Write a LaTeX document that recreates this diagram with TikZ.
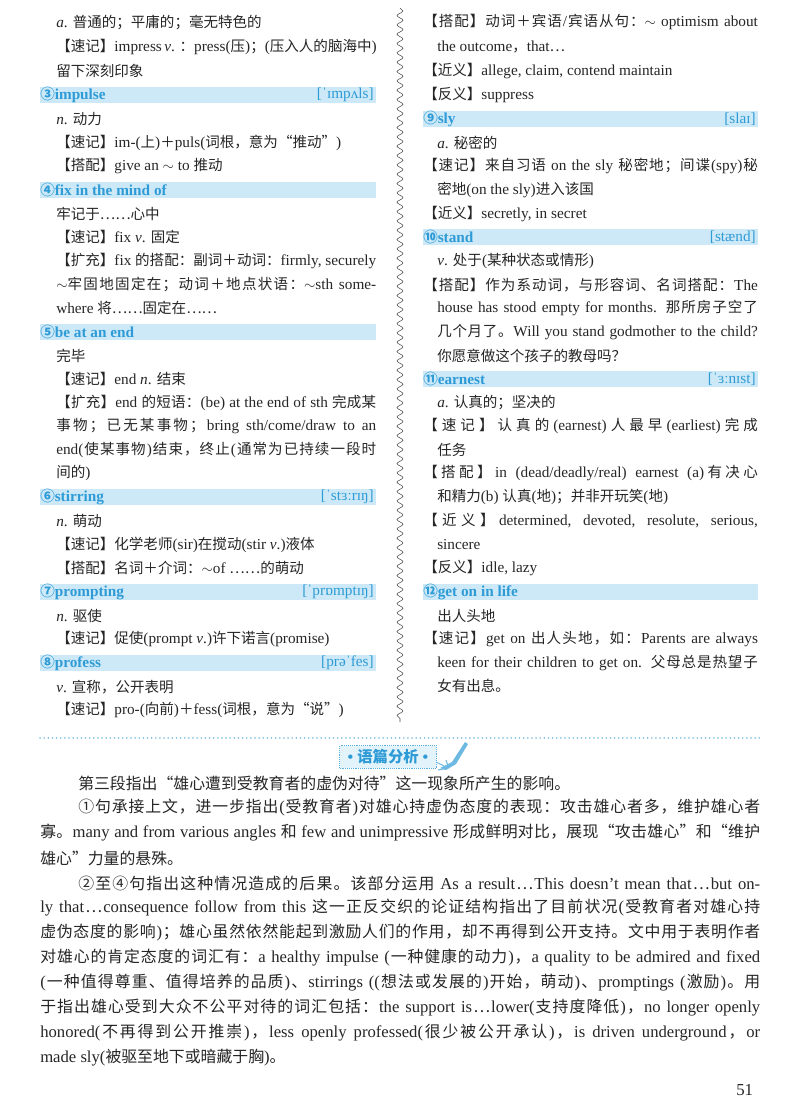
\documentclass[tikz,border=0pt]{standalone}
\usepackage{fontspec}
\setmainfont{Liberation Serif}[Scale=1.05]
\newfontfamily\cjk{Noto Sans CJK SC}
\usetikzlibrary{decorations.pathmorphing}
\makeatletter
\XeTeXinterchartokenstate=1
\newXeTeXintercharclass\cjkcls
\def\setcls#1#2{\count@=#1\relax\loop\ifnum\count@<#2\relax\XeTeXcharclass\count@=\cjkcls\advance\count@ 1\repeat}
\setcls{"4E00}{"A000}
\setcls{"3000}{"3040}
\setcls{"FF00}{"FFF0}
\setcls{"2460}{"2474}
\setcls{"201C}{"201E}
\setcls{"2026}{"2027}
\XeTeXinterchartoks 0 \cjkcls = {\hskip0pt plus 1pt\cjk}
\XeTeXinterchartoks 4095 \cjkcls = {\cjk}
\XeTeXinterchartoks \cjkcls 0 = {\hskip0pt plus 1pt\rmfamily}
\XeTeXinterchartoks \cjkcls 4095 = {\rmfamily}
\XeTeXinterchartoks \cjkcls \cjkcls = {\hskip0pt plus 1pt}
\makeatother
\definecolor{hbar}{HTML}{CDE9F8}
\definecolor{htxt}{HTML}{2E9BD6}
\definecolor{boxf}{HTML}{E3F3FC}
\newcommand{\fs}{\fontsize{10.9}{12}\selectfont}
\newcommand{\fb}{\fontsize{11.9}{13}\selectfont}
\newcommand{\ti}[1]{{\itshape #1}}
\newcommand{\jl}[2]{\hbox to #1{#2}}
\begin{document}
\begin{tikzpicture}[x=0.75pt,y=-0.75pt,
  t/.style={anchor=west,inner sep=0,font=\fs,text=black!85},
  b/.style={anchor=west,inner sep=0,font=\fb,text=black!85},
  hd/.style={anchor=west,inner sep=0,font=\fs\bfseries,text=htxt},
  ph/.style={anchor=east,inner sep=0,font=\fs,text=htxt}]
\useasboundingbox (0,0) rectangle (800,1115);
\fill[white] (0,0) rectangle (800,1115);
% header bars
\foreach \y in {95,190,332,497,592,663}{\fill[hbar] (40,\y-8) rectangle (376,\y+8);}
\foreach \y in {119,237,379,592}{\fill[hbar] (423,\y-8) rectangle (758,\y+8);}
% divider
\draw[black!70,decorate,decoration={snake,amplitude=2.2,segment length=7}] (400,8) -- (400,722);
% left column
\node[t] (l1) at (56,22) {\ti{a}. 普通的；平庸的；毫无特色的};
\node[t] (l2) at (56,47) {\jl{240pt}{【速记】impress \ti{v}. ：press(压)；(压入人的脑海中)}};
\node[t] (l3) at (56,71) {留下深刻印象};
\node[hd] (l4) at (40,95) {③impulse}; \node[ph] (l4p) at (374,95) {[ˈɪmpʌls]};
\node[t] (l5) at (56,119) {\ti{n}. 动力};
\node[t] (l6) at (56,143) {【速记】im-(上)＋puls(词根，意为“推动”)};
\node[t] (l7) at (56,166) {【搭配】give an $\sim$ to 推动};
\node[hd] (l8) at (40,190) {④fix in the mind of};
\node[t] (l9) at (56,214) {牢记于……心中};
\node[t] (l10) at (56,237) {【速记】fix \ti{v}. 固定};
\node[t] (l11) at (56,261) {\jl{240pt}{【扩充】fix 的搭配：副词＋动词：firmly, securely}};
\node[t] (l12) at (56,285) {\jl{240pt}{$\sim$牢固地固定在；动词＋地点状语：$\sim$sth some-}};
\node[t] (l13) at (56,308) {where 将……固定在……};
\node[hd] (l14) at (40,332) {⑤be at an end};
\node[t] (l15) at (56,356) {完毕};
\node[t] (l16) at (56,379) {【速记】end \ti{n}. 结束};
\node[t] (l17) at (56,403) {\jl{240pt}{【扩充】end 的短语：(be) at the end of sth 完成某}};
\node[t] (l18) at (56,426) {\jl{240pt}{事物；已无某事物；bring sth/come/draw to an}};
\node[t] (l19) at (56,450) {\jl{240pt}{end(使某事物)结束，终止(通常为已持续一段时}};
\node[t] (l20) at (56,473) {间的)};
\node[hd] (l21) at (40,497) {⑥stirring}; \node[ph] (l21p) at (374,497) {[ˈstɜːrɪŋ]};
\node[t] (l22) at (56,521) {\ti{n}. 萌动};
\node[t] (l23) at (56,545) {【速记】化学老师(sir)在搅动(stir \ti{v}.)液体};
\node[t] (l24) at (56,568) {【搭配】名词＋介词：$\sim$of ……的萌动};
\node[hd] (l25) at (40,592) {⑦prompting}; \node[ph] (l25p) at (374,592) {[ˈprɒmptɪŋ]};
\node[t] (l26) at (56,616) {\ti{n}. 驱使};
\node[t] (l27) at (56,639) {【速记】促使(prompt \ti{v}.)许下诺言(promise)};
\node[hd] (l28) at (40,663) {⑧profess}; \node[ph] (l28p) at (374,663) {[prəˈfes]};
\node[t] (l29) at (56,687) {\ti{v}. 宣称，公开表明};
\node[t] (l30) at (56,710) {【速记】pro-(向前)＋fess(词根，意为“说”)};
% right column
\node[t] (r1) at (423,22) {\jl{251pt}{【搭配】动词＋宾语/宾语从句：$\sim$ optimism about}};
\node[t] (r2) at (437,47) {the outcome，that…};
\node[t] (r3) at (423,71) {【近义】allege, claim, contend maintain};
\node[t] (r4) at (423,95) {【反义】suppress};
\node[hd] (r5) at (423,119) {⑨sly}; \node[ph] (r5p) at (756,119) {[slaɪ]};
\node[t] (r6) at (437,143) {\ti{a}. 秘密的};
\node[t] (r7) at (423,166) {\jl{251pt}{【速记】来自习语 on the sly 秘密地；间谍(spy)秘}};
\node[t] (r8) at (437,190) {密地(on the sly)进入该国};
\node[t] (r9) at (423,214) {【近义】secretly, in secret};
\node[hd] (r10) at (423,237) {⑩stand}; \node[ph] (r10p) at (756,237) {[stænd]};
\node[t] (r11) at (437,261) {\ti{v}. 处于(某种状态或情形)};
\node[t] (r12) at (423,285) {\jl{251pt}{【搭配】作为系动词，与形容词、名词搭配：The}};
\node[t] (r13) at (437,308) {\jl{240.5pt}{house has stood empty for months. 那所房子空了}};
\node[t] (r14) at (437,332) {\jl{240.5pt}{几个月了。Will you stand godmother to the child?}};
\node[t] (r15) at (437,356) {你愿意做这个孩子的教母吗？};
\node[hd] (r16) at (423,379) {⑪earnest}; \node[ph] (r16p) at (756,379) {[ˈɜːnɪst]};
\node[t] (r17) at (437,403) {\ti{a}. 认真的；坚决的};
\node[t] (r18) at (423,426) {\jl{251pt}{【速记】认真的(earnest)人最早(earliest)完成}};
\node[t] (r19) at (437,450) {任务};
\node[t] (r20) at (423,473) {\jl{251pt}{【搭配】in (dead/deadly/real) earnest (a)有决心}};
\node[t] (r21) at (437,497) {和精力(b) 认真(地)；并非开玩笑(地)};
\node[t] (r22) at (423,521) {\jl{251pt}{【近义】determined, devoted, resolute, serious,}};
\node[t] (r23) at (437,545) {sincere};
\node[t] (r24) at (423,568) {【反义】idle, lazy};
\node[hd] (r25) at (423,592) {⑫get on in life};
\node[t] (r26) at (437,616) {出人头地};
\node[t] (r27) at (423,639) {\jl{251pt}{【速记】get on 出人头地，如：Parents are always}};
\node[t] (r28) at (437,663) {\jl{240.5pt}{keen for their children to get on. 父母总是热望子}};
\node[t] (r29) at (437,686) {女有出息。};
% separator
\draw[htxt!60,line width=1.2pt,dash pattern=on 0.1pt off 3pt,line cap=round] (40,738) -- (760,738);
\node[draw=htxt!80,densely dotted,fill=boxf,inner xsep=6pt,inner ysep=3pt,font=\fontsize{11.5}{13}\selectfont\bfseries,text=htxt] (hb) at (388,757) {• 语篇分析 •};
\fill[htxt!70] (440,768) -- (452,762) -- (465,742) -- (468,744) -- (456,764) -- (446,770) -- cycle;
\draw[htxt!70,line width=0.8pt] (436,762) -- (444,766) (438,770) -- (448,768) (446,760) -- (448,766);
% paragraph
\node[b] (p1) at (78,783) {第三段指出“雄心遭到受教育者的虚伪对待”这一现象所产生的影响。};
\node[b] (p2) at (78,808) {\jl{511.5pt}{①句承接上文，进一步指出(受教育者)对雄心持虚伪态度的表现：攻击雄心者多，维护雄心者}};
\node[b] (p3) at (40,833) {\jl{540pt}{寡。many and from various angles 和 few and unimpressive 形成鲜明对比，展现“攻击雄心”和“维护}};
\node[b] (p4) at (40,858) {雄心”力量的悬殊。};
\node[b] (p5) at (78,883) {\jl{511.5pt}{②至④句指出这种情况造成的后果。该部分运用 As a result…This doesn't mean that…but on-}};
\node[b] (p6) at (40,908) {\jl{540pt}{ly that…consequence follow from this 这一正反交织的论证结构指出了目前状况(受教育者对雄心持}};
\node[b] (p7) at (40,933) {\jl{540pt}{虚伪态度的影响)；雄心虽然依然能起到激励人们的作用，却不再得到公开支持。文中用于表明作者}};
\node[b] (p8) at (40,958) {\jl{540pt}{对雄心的肯定态度的词汇有：a healthy impulse (一种健康的动力)，a quality to be admired and fixed}};
\node[b] (p9) at (40,983) {\jl{540pt}{(一种值得尊重、值得培养的品质)、stirrings ((想法或发展的)开始，萌动)、promptings (激励)。用}};
\node[b] (p10) at (40,1008) {\jl{540pt}{于指出雄心受到大众不公平对待的词汇包括：the support is…lower(支持度降低)，no longer openly}};
\node[b] (p11) at (40,1033) {\jl{540pt}{honored(不再得到公开推崇)，less openly professed(很少被公开承认)，is driven underground，or}};
\node[b] (p12) at (40,1058) {made sly(被驱至地下或暗藏于胸)。};
\node[t,font=\fontsize{12}{14}\selectfont] (pg) at (736,1090) {51};
\end{tikzpicture}
\end{document}
